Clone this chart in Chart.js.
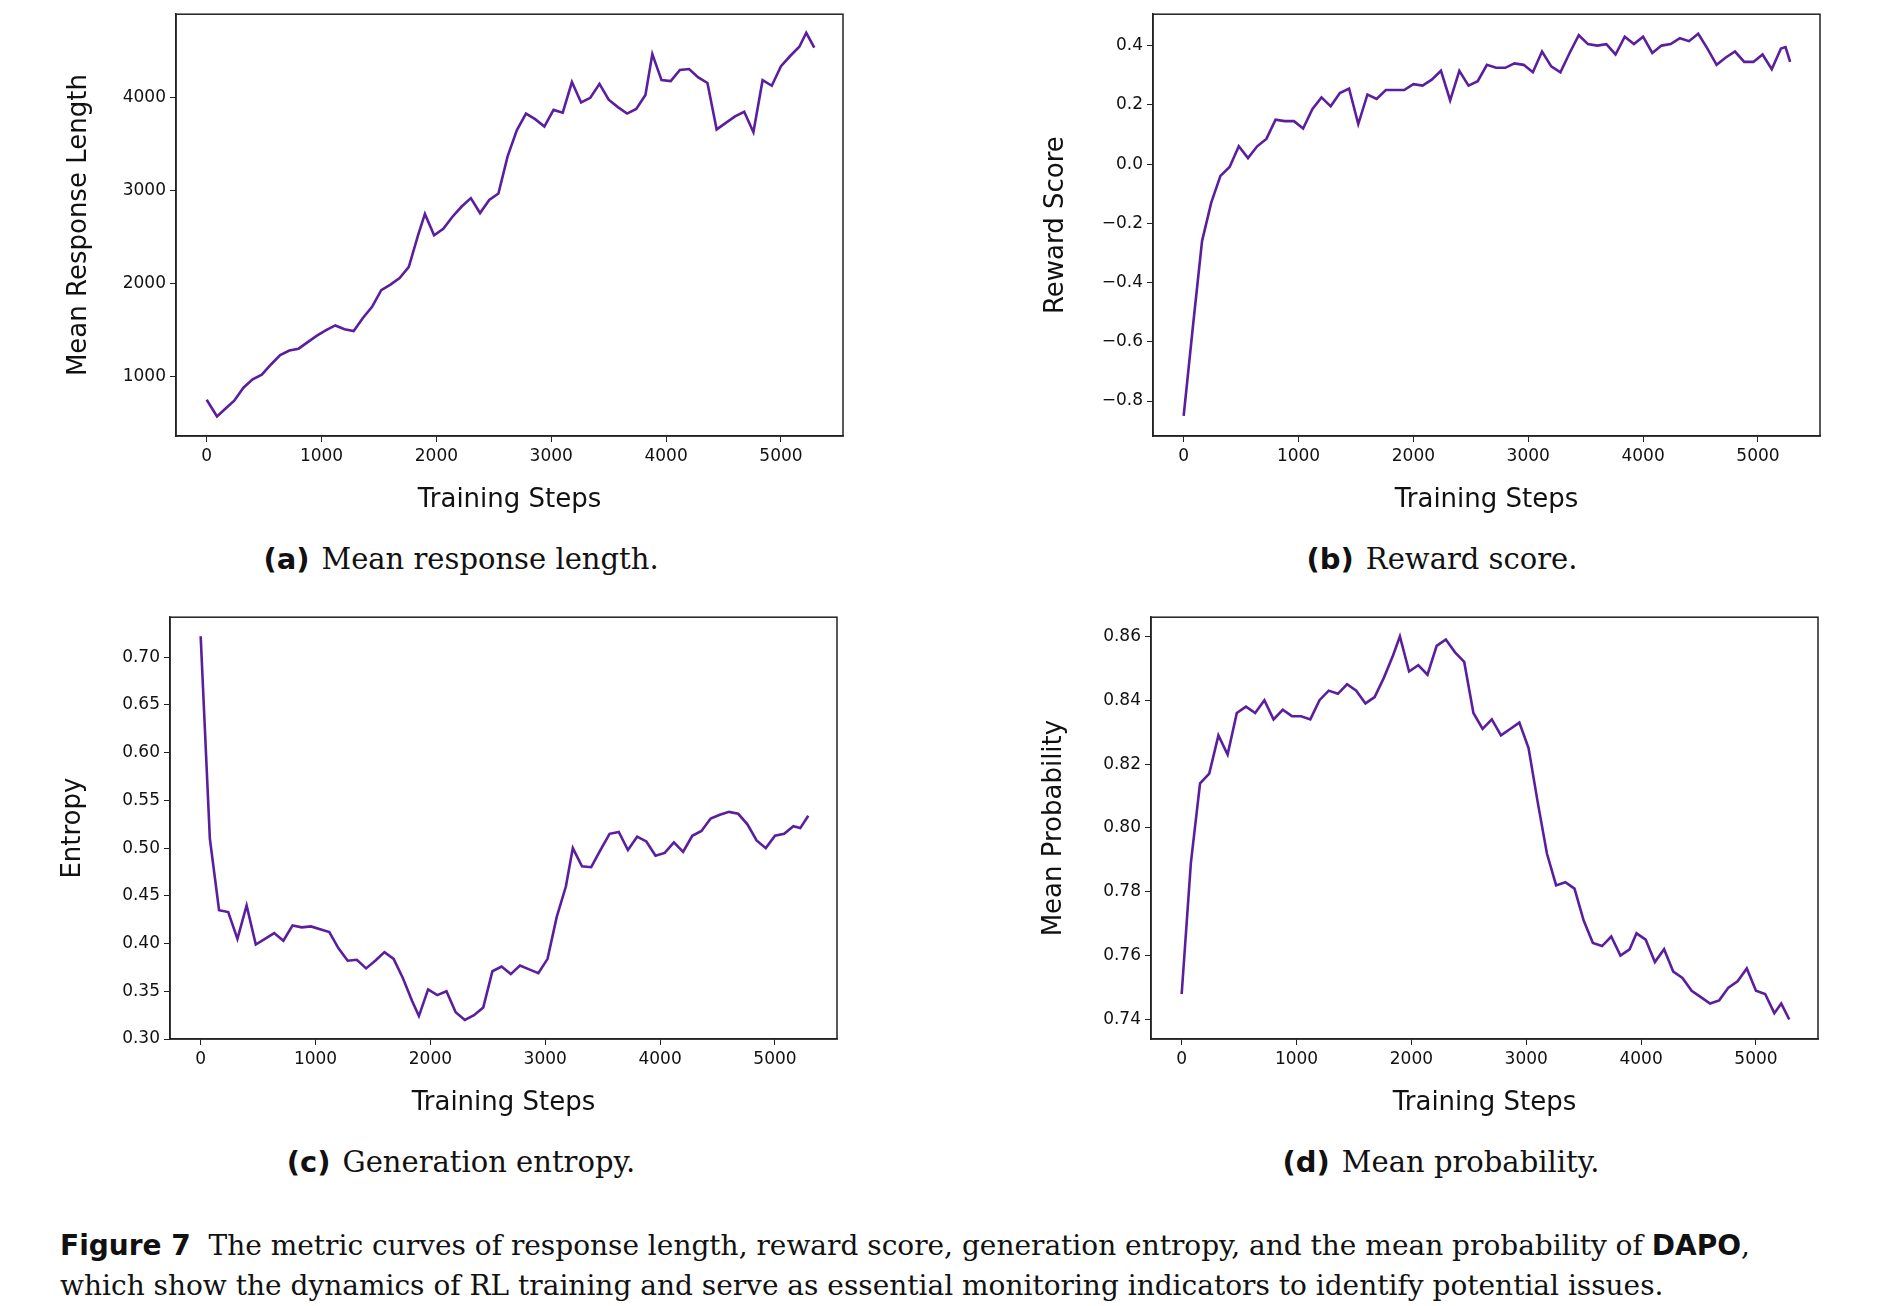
<!DOCTYPE html>
<html>
<head>
<meta charset="utf-8">
<script src="https://cdn.jsdelivr.net/npm/chart.js@4.4.1/dist/chart.umd.min.js"></script>
<style>
  body { margin: 0; background: #fff; width: 1878px; height: 1306px; position: relative; overflow: hidden; }
  .box { position: absolute; width: 800px; height: 520px; }
  .sub { position: absolute; font-family: "DejaVu Serif", serif; font-size: 29px; color: #111; transform: translateX(-50%); white-space: nowrap; }
  .sub b { font-family: "DejaVu Sans", sans-serif; font-weight: bold; margin-right: 12px; }
  .cap { position: absolute; left: 60px; width: 1800px; font-family: "DejaVu Serif", serif; font-size: 28px; line-height: 40px; color: #111; }
  .cap b { font-family: "DejaVu Sans", sans-serif; }
</style>
</head>
<body>
<div class="box" style="left:60px;top:0"><canvas id="ca"></canvas></div>
<div class="box" style="left:1037px;top:0"><canvas id="cb"></canvas></div>
<div class="box" style="left:54px;top:603px"><canvas id="cc"></canvas></div>
<div class="box" style="left:1035px;top:603px"><canvas id="cd"></canvas></div>
<div class="sub" style="left:461px;top:542px"><b>(a)</b>Mean response length.</div>
<div class="sub" style="left:1442px;top:542px"><b>(b)</b>Reward score.</div>
<div class="sub" style="left:461px;top:1145px"><b>(c)</b>Generation entropy.</div>
<div class="sub" style="left:1441px;top:1145px"><b>(d)</b>Mean probability.</div>
<div class="cap" style="top:1226px"><b>Figure 7</b>&nbsp; The metric curves of response length, reward score, generation entropy, and the mean probability of <b>DAPO</b>,<br>which show the dynamics of RL training and serve as essential monitoring indicators to identify potential issues.</div>
<script>
// steps + values
const stepsA = [0, 90, 160, 240, 320, 400, 480, 560, 640, 720, 800, 880, 960, 1040, 1120, 1200, 1280, 1360, 1440, 1520, 1600, 1680, 1760, 1840, 1900, 1980, 2060, 2140, 2220, 2300, 2380, 2460, 2540, 2620, 2700, 2780, 2860, 2940, 3020, 3100, 3180, 3260, 3340, 3420, 3500, 3580, 3660, 3740, 3820, 3880, 3960, 4040, 4120, 4200, 4280, 4360, 4440, 4520, 4600, 4680, 4760, 4840, 4920, 5000, 5080, 5160, 5220, 5290];
const lengthA = [750, 570, 650, 740, 880, 970, 1020, 1130, 1230, 1280, 1300, 1370, 1440, 1500, 1550, 1510, 1490, 1630, 1750, 1930, 1990, 2060, 2180, 2520, 2750, 2520, 2590, 2720, 2830, 2920, 2760, 2900, 2970, 3370, 3650, 3830, 3770, 3690, 3870, 3840, 4170, 3950, 4000, 4150, 3980, 3900, 3830, 3880, 4030, 4470, 4190, 4180, 4300, 4310, 4220, 4160, 3660, 3730, 3800, 3850, 3630, 4190, 4130, 4340, 4450, 4550, 4700, 4540];

const stepsB = [0, 80, 160, 240, 320, 400, 480, 560, 640, 720, 800, 880, 960, 1040, 1120, 1200, 1280, 1360, 1440, 1520, 1600, 1680, 1760, 1840, 1920, 2000, 2080, 2160, 2240, 2320, 2400, 2480, 2560, 2640, 2720, 2800, 2880, 2960, 3040, 3120, 3200, 3280, 3360, 3440, 3520, 3600, 3680, 3760, 3840, 3920, 4000, 4080, 4160, 4240, 4320, 4400, 4480, 4560, 4640, 4720, 4800, 4880, 4960, 5040, 5120, 5200, 5240, 5280];
const rewardB = [-0.85, -0.55, -0.26, -0.13, -0.04, -0.01, 0.06, 0.02, 0.06, 0.085, 0.15, 0.145, 0.145, 0.12, 0.185, 0.225, 0.195, 0.24, 0.255, 0.135, 0.235, 0.22, 0.25, 0.25, 0.25, 0.27, 0.265, 0.285, 0.315, 0.215, 0.315, 0.265, 0.28, 0.335, 0.325, 0.325, 0.34, 0.335, 0.31, 0.38, 0.33, 0.31, 0.375, 0.435, 0.405, 0.4, 0.405, 0.37, 0.43, 0.405, 0.43, 0.375, 0.4, 0.405, 0.425, 0.415, 0.44, 0.39, 0.335, 0.36, 0.38, 0.345, 0.345, 0.37, 0.32, 0.39, 0.395, 0.345];

const stepsC = [0, 80, 160, 240, 320, 400, 480, 560, 640, 720, 800, 880, 960, 1040, 1120, 1200, 1280, 1360, 1440, 1520, 1600, 1680, 1760, 1840, 1900, 1980, 2060, 2140, 2220, 2300, 2380, 2460, 2540, 2620, 2700, 2780, 2860, 2940, 3020, 3100, 3180, 3240, 3320, 3400, 3480, 3560, 3640, 3720, 3800, 3880, 3960, 4040, 4120, 4200, 4280, 4360, 4440, 4520, 4600, 4680, 4760, 4840, 4920, 5000, 5080, 5160, 5220, 5290];
const entropyC = [0.722, 0.51, 0.435, 0.433, 0.405, 0.44, 0.399, 0.405, 0.411, 0.403, 0.419, 0.417, 0.418, 0.415, 0.412, 0.395, 0.382, 0.383, 0.374, 0.382, 0.391, 0.384, 0.364, 0.34, 0.324, 0.352, 0.346, 0.35, 0.328, 0.32, 0.325, 0.333, 0.371, 0.376, 0.368, 0.377, 0.373, 0.369, 0.384, 0.428, 0.46, 0.5, 0.481, 0.48, 0.498, 0.515, 0.517, 0.498, 0.512, 0.507, 0.492, 0.495, 0.506, 0.496, 0.513, 0.518, 0.531, 0.535, 0.538, 0.536, 0.525, 0.508, 0.5, 0.513, 0.515, 0.523, 0.521, 0.534];

const stepsD = [0, 80, 160, 240, 320, 400, 480, 560, 640, 720, 800, 880, 960, 1040, 1120, 1200, 1280, 1360, 1440, 1520, 1600, 1680, 1760, 1840, 1900, 1980, 2060, 2140, 2220, 2300, 2380, 2460, 2540, 2620, 2700, 2780, 2860, 2940, 3020, 3100, 3180, 3260, 3340, 3420, 3500, 3580, 3660, 3740, 3820, 3900, 3960, 4040, 4120, 4200, 4280, 4360, 4440, 4520, 4600, 4680, 4760, 4840, 4920, 5000, 5080, 5160, 5220, 5290];
const probD = [0.748, 0.789, 0.814, 0.817, 0.829, 0.823, 0.836, 0.838, 0.836, 0.840, 0.834, 0.837, 0.835, 0.835, 0.834, 0.840, 0.843, 0.842, 0.845, 0.843, 0.839, 0.841, 0.847, 0.854, 0.860, 0.849, 0.851, 0.848, 0.857, 0.859, 0.855, 0.852, 0.836, 0.831, 0.834, 0.829, 0.831, 0.833, 0.825, 0.808, 0.792, 0.782, 0.783, 0.781, 0.771, 0.764, 0.763, 0.766, 0.760, 0.762, 0.767, 0.765, 0.758, 0.762, 0.755, 0.753, 0.749, 0.747, 0.745, 0.746, 0.750, 0.752, 0.756, 0.749, 0.748, 0.742, 0.745, 0.740];

const xTicks = [0, 1000, 2000, 3000, 4000, 5000];
const yTicksA = [1000, 2000, 3000, 4000];
const yTicksB = [-0.8, -0.6, -0.4, -0.2, 0.0, 0.2, 0.4];
const yTicksC = [0.30, 0.35, 0.40, 0.45, 0.50, 0.55, 0.60, 0.65, 0.70];
const yTicksD = [0.74, 0.76, 0.78, 0.80, 0.82, 0.84, 0.86];

const LINE = '#5a1e9e';
const tickFont = { family: 'DejaVu Sans', size: 17 };
const titleFont = { family: 'DejaVu Sans', size: 26 };

const frame = {
  id: 'frame',
  afterDraw(c) {
    const a = c.chartArea, g = c.ctx;
    g.save();
    g.strokeStyle = '#222';
    g.lineWidth = 1.5;
    g.strokeRect(a.left, a.top, a.right - a.left, a.bottom - a.top);
    g.restore();
  }
};

function makeChart(id, steps, vals, yLabel, yTicks, ymin, ymax, digits, yWidth) {
  new Chart(document.getElementById(id), {
    type: 'line',
    data: { datasets: [{ data: steps.map((s, i) => ({ x: s, y: vals[i] })), borderColor: LINE, borderWidth: 2.6, pointRadius: 0, tension: 0, fill: false }] },
    options: {
      responsive: true, maintainAspectRatio: false, animation: false,
      layout: { padding: { top: 7, right: 17 } },
      plugins: { legend: { display: false }, tooltip: { enabled: false } },
      scales: {
        x: {
          type: 'linear', min: -267, max: 5540,
          afterBuildTicks: s => { s.ticks = xTicks.map(v => ({ value: v })); },
          afterFit: s => { s.height = 84; },
          grid: { drawOnChartArea: false, tickLength: 6, color: '#222' },
          border: { color: '#222', width: 1.5 },
          ticks: { color: '#111', font: tickFont, padding: 4, maxRotation: 0, callback: v => String(v) },
          title: { display: true, text: 'Training Steps', color: '#111', font: titleFont, padding: { top: 0 } }
        },
        y: {
          min: ymin, max: ymax,
          afterBuildTicks: s => { s.ticks = yTicks.map(v => ({ value: v })); },
          afterFit: s => { s.width = yWidth; },
          grid: { drawOnChartArea: false, tickLength: 6, color: '#222' },
          border: { color: '#222', width: 1.5 },
          ticks: { color: '#111', font: tickFont, padding: 4, callback: v => (v < 0 ? '\u2212' : '') + Math.abs(v).toFixed(digits) },
          title: { display: true, text: yLabel, color: '#111', font: titleFont, padding: { bottom: 6 } }
        }
      }
    },
    plugins: [frame]
  });
}

makeChart('ca', stepsA, lengthA, 'Mean Response Length', yTicksA, 360, 4900, 0, 116);
makeChart('cb', stepsB, rewardB, 'Reward Score', yTicksB, -0.918, 0.506, 1, 116);
makeChart('cc', stepsC, entropyC, 'Entropy', yTicksC, 0.30, 0.742, 2, 116);
makeChart('cd', stepsD, probD, 'Mean Probability', yTicksD, 0.7339, 0.866, 2, 116);
</script>
</body>
</html>
